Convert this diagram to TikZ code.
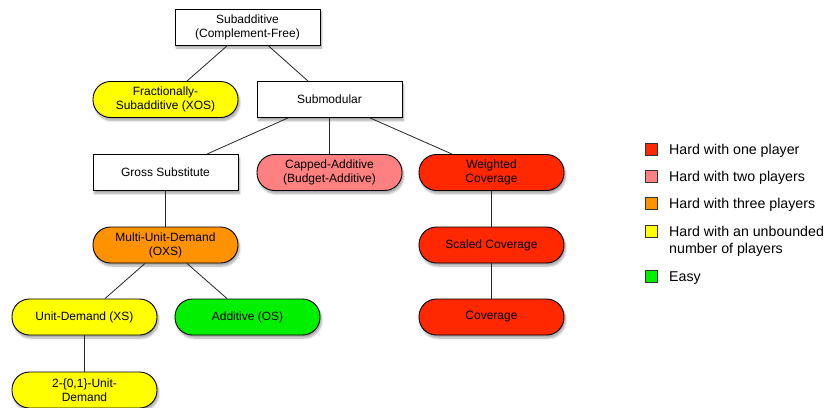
\documentclass[tikz,border=0pt]{standalone}
\usepackage{fontspec}
\setmainfont{Liberation Sans}
\usetikzlibrary{shadows.blur}
\definecolor{hardone}{RGB}{255,40,0}
\definecolor{hardtwo}{RGB}{255,128,128}
\definecolor{hardthree}{RGB}{255,146,0}
\definecolor{hardinf}{RGB}{255,255,0}
\definecolor{easy}{RGB}{0,240,0}
\tikzset{
  base/.style={draw=black, line width=0.9pt, minimum width=145pt, minimum height=36pt,
    inner sep=0pt, align=center, font=\fontsize{12}{14}\selectfont,
    blur shadow={shadow xshift=1.5pt, shadow yshift=-3pt, shadow blur steps=6, shadow opacity=35}},
  sqbox/.style={base, fill=white},
  pill/.style={base, rounded corners=17.5pt},
  link/.style={draw=black!85, line width=0.8pt},
  legsq/.style={draw=black!80, line width=0.8pt, minimum size=12pt, inner sep=0pt},
  legtx/.style={anchor=base west, inner sep=0pt, align=left, font=\fontsize{14.2}{17}\selectfont}
}
\begin{document}
\begin{tikzpicture}[x=1pt, y=-1pt]
\useasboundingbox (0,0) rectangle (837,407);

% hierarchy of valuation classes
\node[sqbox] (subadd) at (247.5,27) {Subadditive\\(Complement-Free)};
\node[pill, fill=hardinf] (xos) at (165.5,99.5) {Fractionally-\\Subadditive (XOS)};
\node[sqbox] (submod) at (329.5,99.5) {Submodular};
\node[sqbox] (gross) at (165.5,172.5) {Gross Substitute};
\node[pill, fill=hardtwo] (capped) at (329.5,172.5) {Capped-Additive\\(Budget-Additive)};
\node[pill, fill=hardone] (wcov) at (491.5,172.5) {Weighted\\Coverage};
\node[pill, fill=hardthree] (oxs) at (165.5,245) {Multi-Unit-Demand\\(OXS)};
\node[pill, fill=hardone] (scov) at (491.5,245) {Scaled Coverage};
\node[pill, fill=hardinf] (xs) at (84.5,317) {Unit-Demand (XS)};
\node[pill, fill=easy] (os) at (247.5,317) {Additive (OS)};
\node[pill, fill=hardone] (cov) at (491.5,317) {Coverage};
\node[pill, fill=hardinf] (two) at (84.5,390) {2-\{0,1\}-Unit-\\Demand};

% connectors
\draw[link] ([xshift=-20pt]subadd.south) -- ([xshift=21.5pt]xos.north);
\draw[link] ([xshift=20.5pt]subadd.south) -- ([xshift=-21.5pt]submod.north);
\draw[link] ([xshift=-41.5pt]submod.south) -- ([xshift=41.5pt]gross.north);
\draw[link] (submod.south) -- (capped.north);
\draw[link] ([xshift=40.5pt]submod.south) -- ([xshift=-39.5pt]wcov.north);
\draw[link] (gross.south) -- (oxs.north);
\draw[link] ([xshift=-20.5pt]oxs.south) -- ([xshift=20.5pt]xs.north);
\draw[link] ([xshift=21.5pt]oxs.south) -- ([xshift=-20.5pt]os.north);
\draw[link] (xs.south) -- (two.north);
\draw[link] (wcov.south) -- (scov.north);
\draw[link] (scov.south) -- (cov.north);

% legend: squares with labels set on a shared baseline
% (a two-line label's base anchor sits on its last line)
\node[legsq, fill=hardone] (l1) at (651,149) {};
\node[legtx] (t1) at (669,154) {Hard with one player};
\node[legsq, fill=hardtwo] (l2) at (651,176) {};
\node[legtx] (t2) at (669,181) {Hard with two players};
\node[legsq, fill=hardthree] (l3) at (651,203) {};
\node[legtx] (t3) at (669,208) {Hard with three players};
\node[legsq, fill=hardinf] (l4) at (651,231) {};
\node[legtx] (t4) at (669,253) {Hard with an unbounded\\number of players};
\node[legsq, fill=easy] (l5) at (651,276) {};
\node[legtx] (t5) at (669,281) {Easy};
\end{tikzpicture}
\end{document}
